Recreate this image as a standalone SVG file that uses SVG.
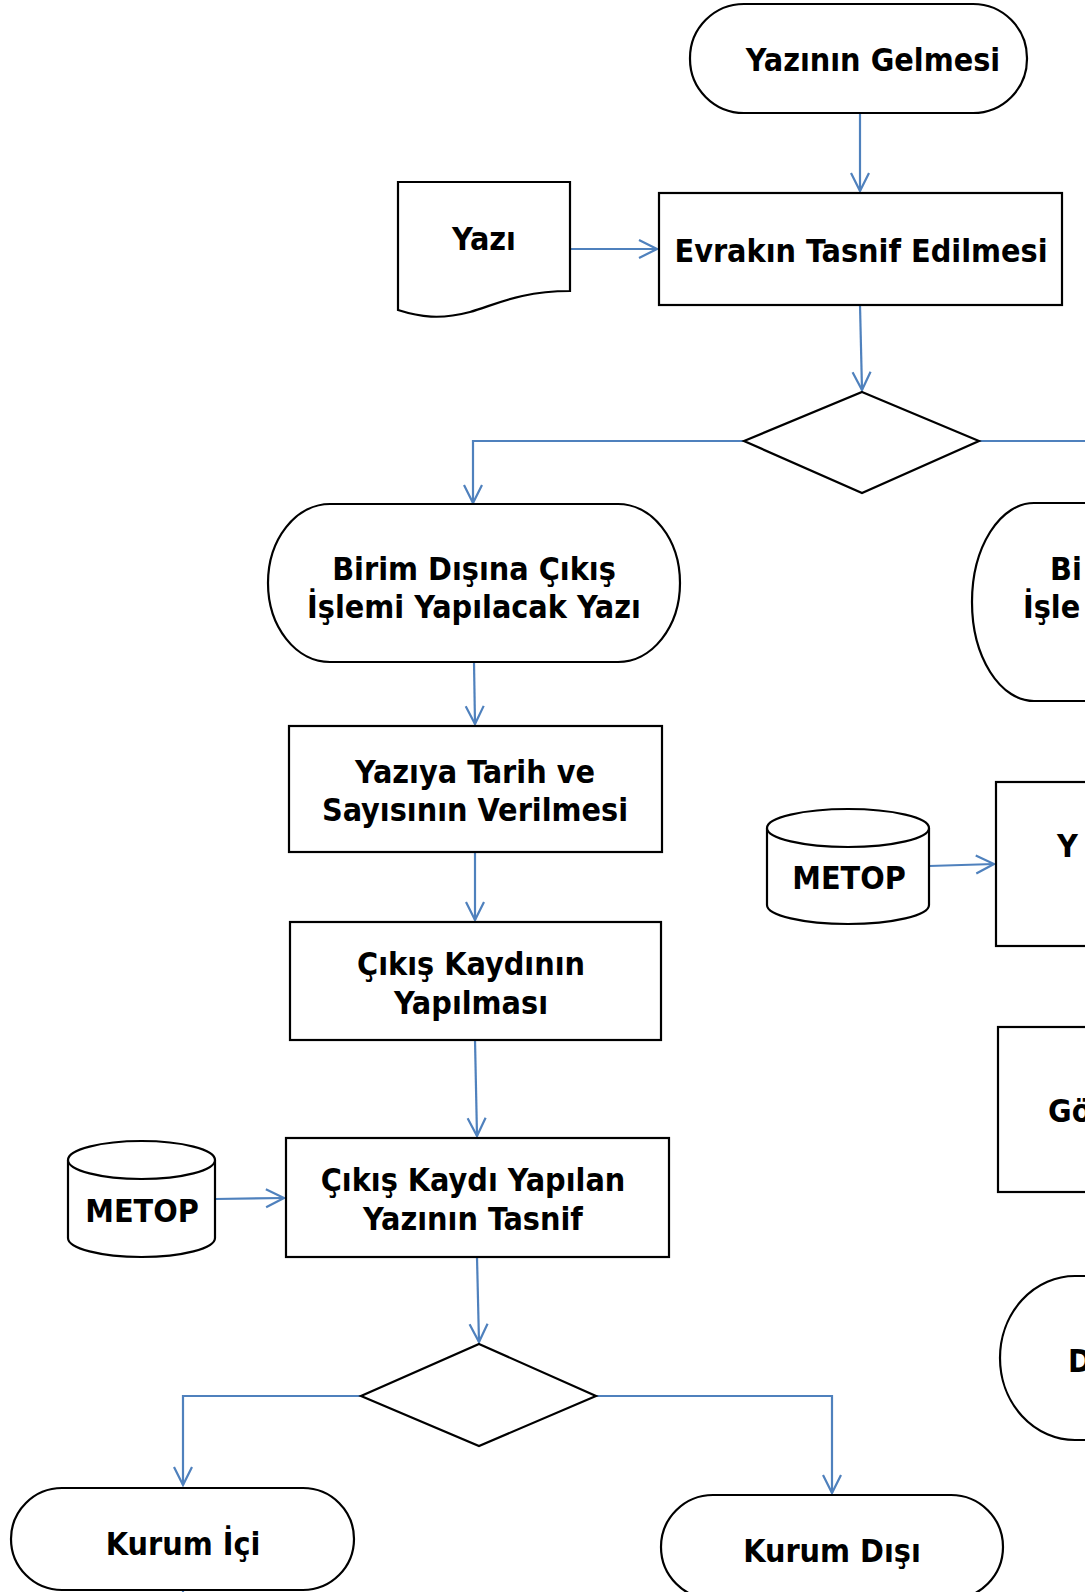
<svg xmlns="http://www.w3.org/2000/svg" width="1085" height="1592" viewBox="0 0 1085 1592">
<defs>
<marker id="arr" markerUnits="userSpaceOnUse" markerWidth="24" markerHeight="24" viewBox="-20 -12 24 24" refX="0" refY="0" orient="auto">
<path d="M-18,-9 L0,0 L-18,9" fill="none" stroke="#4F81BD" stroke-width="2.2"/>
</marker>
</defs>
<style>
.s{fill:#fff;stroke:#000;stroke-width:2.2}
.t{font-family:"DejaVu Sans Condensed","DejaVu Sans",sans-serif;font-weight:bold;font-size:32px;fill:#000;text-anchor:middle}
.l{text-anchor:start}
.c{fill:none;stroke:#4F81BD;stroke-width:2.2}
</style>
<rect width="1085" height="1592" fill="#fff"/>
<g id="connectors">
<path class="c" d="M860,113 L860,191" marker-end="url(#arr)"/>
<path class="c" d="M570,249 L657,249" marker-end="url(#arr)"/>
<path class="c" d="M860,305 L862,390" marker-end="url(#arr)"/>
<path class="c" d="M744,441 L473,441 L473,503" marker-end="url(#arr)"/>
<path class="c" d="M979,441 L1090,441"/>
<path class="c" d="M474,662 L475,724" marker-end="url(#arr)"/>
<path class="c" d="M475,852 L475,920" marker-end="url(#arr)"/>
<path class="c" d="M475,1040 L477,1136" marker-end="url(#arr)"/>
<path class="c" d="M929,866 L994,864" marker-end="url(#arr)"/>
<path class="c" d="M215,1199 L284,1198" marker-end="url(#arr)"/>
<path class="c" d="M477,1257 L479,1342" marker-end="url(#arr)"/>
<path class="c" d="M361,1396 L183,1396 L183,1485" marker-end="url(#arr)"/>
<path class="c" d="M596,1396 L832,1396 L832,1493" marker-end="url(#arr)"/>
<path class="c" d="M183,1590 L183,1595"/>
</g>
<g id="start">
<rect class="s" x="690" y="4" width="337" height="109" rx="54" ry="54"/>
<text class="t" x="873" y="71">Yazının Gelmesi</text>
</g>
<g id="yazi">
<path class="s" d="M398,182 L570,182 L570,291 C520,291 495,305 470,312 C440,320 420,317 398,310 Z"/>
<text class="t" x="484" y="250">Yazı</text>
</g>
<g id="tasnif">
<rect class="s" x="659" y="193" width="403" height="112"/>
<text class="t" x="861" y="262">Evrakın Tasnif Edilmesi</text>
</g>
<g id="karar1">
<path class="s" d="M862,392 L979,441 L862,493 L744,441 Z"/>
</g>
<g id="birimdisi">
<rect class="s" x="268" y="504" width="412" height="158" rx="62" ry="79"/>
<text class="t" x="474" y="580">Birim Dışına Çıkış</text>
<text class="t" x="474" y="618">İşlemi Yapılacak Yazı</text>
</g>
<g id="biriminci">
<rect class="s" x="972" y="503" width="300" height="198" rx="62" ry="99"/>
<text class="t l" x="1050" y="580">Bi</text>
<text class="t l" x="1023" y="618">İşle</text>
</g>
<g id="tarih">
<rect class="s" x="289" y="726" width="373" height="126"/>
<text class="t" x="475" y="783">Yazıya Tarih ve</text>
<text class="t" x="475" y="821">Sayısının Verilmesi</text>
</g>
<g id="metop2">
<path class="s" d="M767,828 A81,19 0 0 1 929,828 L929,905 A81,19 0 0 1 767,905 Z"/>
<path class="s" d="M767,828 A81,19 0 0 0 929,828" fill="none"/>
<text class="t" x="849" y="889">METOP</text>
</g>
<g id="yright">
<rect class="s" x="996" y="782" width="200" height="164"/>
<text class="t l" x="1057" y="857">Y</text>
</g>
<g id="cikiskaydi">
<rect class="s" x="290" y="922" width="371" height="118"/>
<text class="t" x="471" y="975">Çıkış Kaydının</text>
<text class="t" x="471" y="1014">Yapılması</text>
</g>
<g id="goright">
<rect class="s" x="998" y="1027" width="200" height="165"/>
<text class="t l" x="1048" y="1122">Gö</text>
</g>
<g id="metop1">
<path class="s" d="M68,1160 A73.5,19 0 0 1 215,1160 L215,1238 A73.5,19 0 0 1 68,1238 Z"/>
<path class="s" d="M68,1160 A73.5,19 0 0 0 215,1160" fill="none"/>
<text class="t" x="142" y="1222">METOP</text>
</g>
<g id="tasnif2">
<rect class="s" x="286" y="1138" width="383" height="119"/>
<text class="t" x="473" y="1191">Çıkış Kaydı Yapılan</text>
<text class="t" x="473" y="1230">Yazının Tasnif</text>
</g>
<g id="dright">
<rect class="s" x="1000" y="1276" width="300" height="164" rx="75" ry="82"/>
<text class="t l" x="1068" y="1372">D</text>
</g>
<g id="karar2">
<path class="s" d="M479,1344 L596,1396 L479,1446 L361,1396 Z"/>
</g>
<g id="kurumici">
<rect class="s" x="11" y="1488" width="343" height="102" rx="51" ry="51"/>
<text class="t" x="183" y="1555">Kurum İçi</text>
</g>
<g id="kurumdisi">
<rect class="s" x="661" y="1495" width="342" height="104" rx="52" ry="52"/>
<text class="t" x="832" y="1562">Kurum Dışı</text>
</g>
</svg>
